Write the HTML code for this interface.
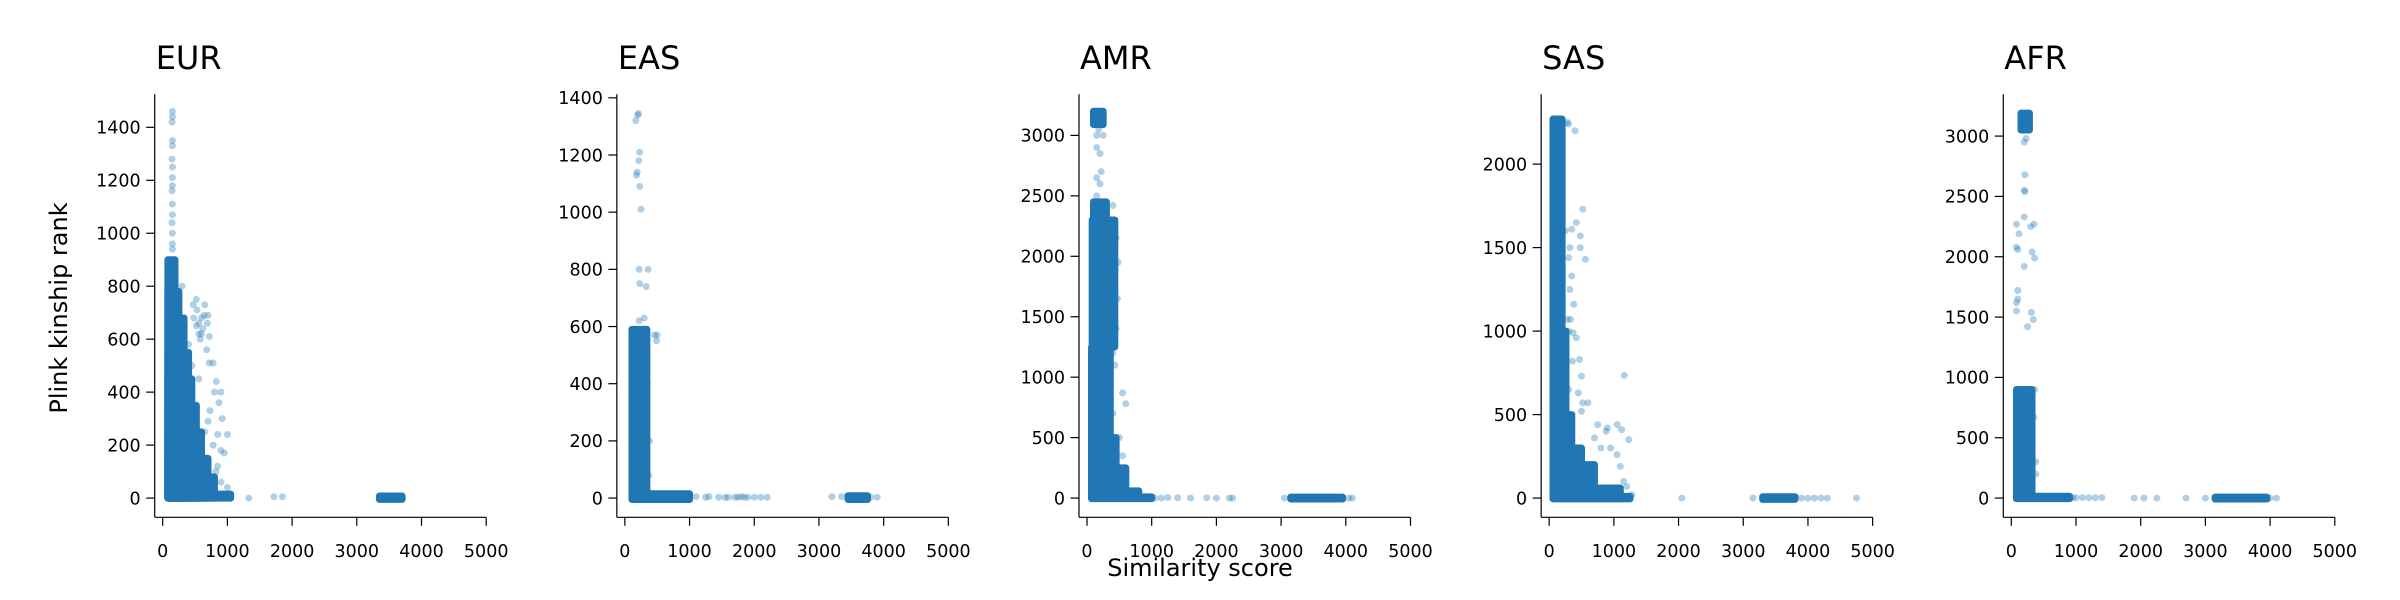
<!DOCTYPE html>
<html><head><meta charset="utf-8"><style>
html,body{margin:0;padding:0;background:#fff;}
svg{display:block;font-family:"DejaVu Sans","Liberation Sans",sans-serif;}
</style></head><body>
<svg id="chart" width="2400" height="600" viewBox="0 0 2400 600" xmlns="http://www.w3.org/2000/svg">
<text x="67" y="308" font-size="24" text-anchor="middle" transform="rotate(-90 67 308)">Plink kinship rank</text>
<text x="1200" y="576" font-size="24" text-anchor="middle">Similarity score</text>
</svg>
<script>
const panelNames = ["EUR","EAS","AMR","SAS","AFR"];
const xTicks = [0,1000,2000,3000,4000,5000];
const yTicksEUR = [0,200,400,600,800,1000,1200,1400];
const yTicksEAS = [0,200,400,600,800,1000,1200,1400];
const yTicksAMR = [0,500,1000,1500,2000,2500,3000];
const yTicksSAS = [0,500,1000,1500,2000];
const yTicksAFR = [0,500,1000,1500,2000,2500,3000];
const yMaxData = [1452,1345,3181,2303,3187];
// dense regions [xMin,xMax,yMin,yMax]
const denseEUR = [[80,190,0,900],[80,250,0,780],[80,330,0,680],[80,400,0,550],[80,450,0,450],[80,520,0,350],[80,600,0,250],[80,700,0,150],[80,800,0,80],[80,1050,0,15],[3350,3700,-5,8]];
const denseEAS = [[110,340,0,590],[110,1000,-5,15],[3450,3750,-5,8]];
const denseAMR = [[100,250,3090,3200],[100,300,2300,2450],[80,430,1250,2300],[70,360,0,1250],[70,450,0,500],[70,600,0,250],[70,800,0,60],[70,1000,-5,10],[3150,3950,-8,8]];
const denseSAS = [[60,200,0,2270],[60,260,0,1000],[60,350,0,500],[60,500,0,300],[60,700,0,200],[60,1100,0,60],[60,1250,-5,10],[3300,3800,-8,8]];
const denseAFR = [[150,280,3050,3190],[80,320,0,900],[80,900,-5,15],[3150,3950,-8,8]];
// scattered points [x,y]
const ptsEUR = [[150,1460],[150,1440],[145,1420],[150,1350],[150,1330],[145,1280],[150,1250],[150,1210],[150,1180],[145,1160],[150,1110],[150,1070],[145,1040],[150,1000],[150,960],[150,940],[300,800],[520,750],[470,730],[650,730],[530,710],[700,690],[600,680],[560,660],[620,640],[720,610],[600,620],[680,560],[780,510],[720,510],[830,440],[900,400],[800,400],[870,360],[730,330],[700,290],[920,300],[850,240],[1000,240],[900,180],[950,170],[850,120],[900,60],[1000,40],[1050,0],[1330,0],[1720,5],[1850,5],[560,450],[450,500],[400,580],[650,250],[500,260],[780,200],[820,100],[520,650],[560,620],[640,690],[580,600],[480,680],[690,660]];
const ptsEAS = [[200,1340],[210,1345],[170,1320],[230,1210],[215,1180],[190,1140],[180,1130],[230,1090],[250,1010],[220,800],[360,800],[230,750],[330,740],[220,620],[300,630],[460,570],[500,570],[490,550],[350,400],[320,460],[380,200],[370,80],[1000,3],[1100,5],[1250,3],[1300,5],[1450,3],[1550,2],[1600,3],[1700,3],[1800,5],[1900,3],[2000,3],[2100,3],[2200,3],[1750,3],[1850,3],[3200,5],[3350,5],[3800,3],[3900,3]];
const ptsAMR = [[180,3050],[150,3000],[250,3000],[150,2900],[200,2850],[220,2700],[150,2650],[200,2600],[150,2500],[400,2420],[230,2450],[250,2350],[430,2250],[450,2150],[480,1950],[470,1650],[450,1400],[400,1200],[430,1100],[550,870],[600,780],[400,700],[500,500],[550,350],[1050,0],[1150,0],[1250,5],[1400,3],[1600,0],[1850,3],[2000,0],[2200,0],[2250,0],[3050,0],[4050,0],[4100,0]];
const ptsSAS = [[280,2250],[300,2240],[400,2200],[520,1730],[250,1600],[320,1500],[480,1500],[560,1430],[300,1440],[350,1330],[320,1250],[380,1160],[330,1070],[280,1070],[370,990],[420,960],[360,820],[470,830],[420,1650],[480,1570],[350,1610],[300,1000],[500,730],[1160,735],[300,650],[450,630],[520,570],[600,570],[500,520],[750,440],[900,420],[880,400],[1050,440],[1120,410],[1230,350],[700,360],[800,300],[950,300],[1050,260],[700,200],[1100,190],[1150,100],[1200,70],[1280,20],[2050,0],[3150,0],[3900,0],[4000,0],[4100,0],[4200,0],[4300,0],[4750,0]];
const ptsAFR = [[230,2980],[200,2950],[210,2680],[200,2550],[210,2540],[200,2330],[80,2270],[350,2270],[300,2250],[120,2190],[80,2080],[100,2060],[320,2040],[360,1990],[200,1920],[100,1720],[100,1650],[80,1620],[80,1550],[310,1540],[340,1480],[250,1420],[360,900],[350,670],[380,300],[380,200],[950,3],[1000,3],[1100,5],[1200,3],[1300,3],[1400,5],[1900,0],[2050,0],[2250,0],[2700,0],[3000,0],[4000,0],[4100,0]];

const denseAll = [denseEUR,denseEAS,denseAMR,denseSAS,denseAFR];
const ptsAll = [ptsEUR,ptsEAS,ptsAMR,ptsSAS,ptsAFR];
const yTicksAll = [yTicksEUR,yTicksEAS,yTicksAMR,yTicksSAS,yTicksAFR];

const NS="http://www.w3.org/2000/svg";
const svg=document.getElementById('chart');
const COLOR="#1f77b4";
const TOP=94.3, BOT=517.3, R=3.5;
function mk(tag,attrs,parent){const e=document.createElementNS(NS,tag);for(const k in attrs)e.setAttribute(k,attrs[k]);parent.appendChild(e);return e;}

panelNames.forEach((name,i)=>{
  const spine=154.7+462.15*i;
  const x0=spine+8, xSpan=323.5;
  const xs=v=>x0+v/5000*xSpan;
  const h=BOT-TOP, m=h*0.05/1.1;
  const zeroY=BOT-m, topY=TOP+m;
  const ys=v=>zeroY-v/yMaxData[i]*(zeroY-topY);
  const g=mk('g',{},svg);
  
  
  const t=mk('text',{x:spine+1,y:69,'font-size':32},g);
  
  
  t.textContent=name;
  ptsAll[i].forEach(p=>{
    const c=mk('circle',{cx:xs(p[0]),cy:ys(p[1]),r:R,fill:COLOR,'fill-opacity':0.35},g);
    
    
  });
  denseAll[i].forEach(d=>{
    const x1=xs(d[0])-R,x2=xs(d[1])+R,y1=ys(d[3])-R,y2=ys(d[2])+R;
    const r=mk('rect',{x:x1,y:y1,width:x2-x1,height:y2-y1,rx:R,fill:'#2077b4'},g);
    
    
  });
  const ls=mk('line',{x1:spine,y1:TOP,x2:spine,y2:BOT,stroke:'#000','stroke-width':1.2},g);
  
  
  const bs=mk('line',{x1:spine,y1:BOT,x2:xs(5000),y2:BOT,stroke:'#000','stroke-width':1.2},g);
  
  
  xTicks.forEach(v=>{
    const x=xs(v);
    mk('line',{x1:x,y1:BOT,x2:x,y2:BOT+8.5,stroke:'#000','stroke-width':1.2},g);
    const tl=mk('text',{x:x,y:557,'font-size':17.5,'text-anchor':'middle'},g);
    
    
    tl.textContent=v;
  });
  yTicksAll[i].forEach(v=>{
    const y=ys(v);
    mk('line',{x1:spine-8.5,y1:y,x2:spine,y2:y,stroke:'#000','stroke-width':1.2},g);
    const tl=mk('text',{x:spine-14,y:y+6.3,'font-size':17.5,'text-anchor':'end'},g);
    
    
    tl.textContent=v;
  });
});
</script>
</body></html>
